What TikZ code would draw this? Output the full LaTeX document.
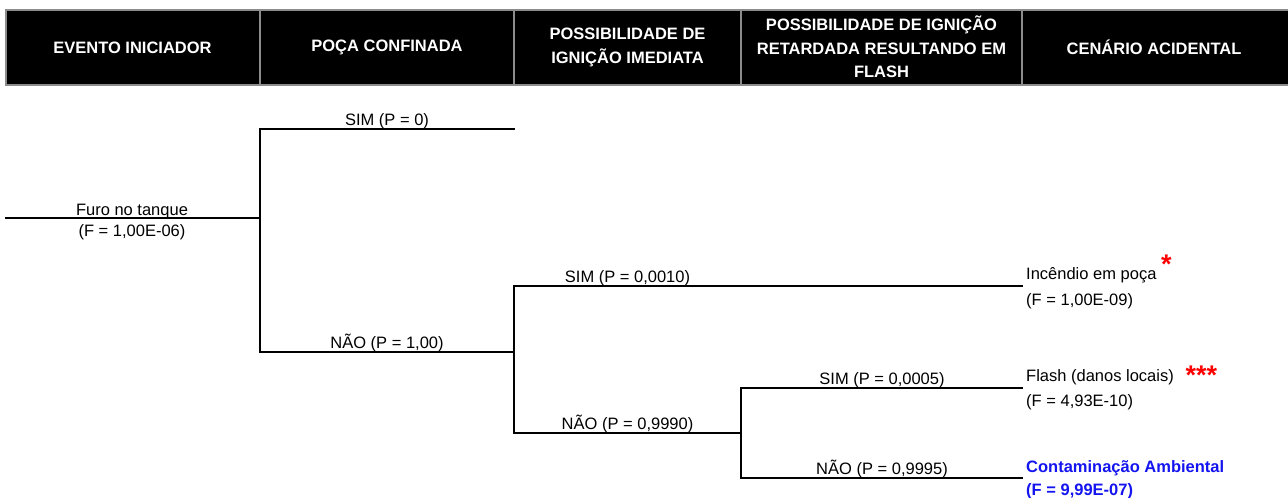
\documentclass[tikz,border=0pt]{standalone}
\usepackage{fontspec}
\setmainfont{Liberation Sans}
\definecolor{hdrgray}{RGB}{140,140,140}
\definecolor{outblue}{RGB}{20,20,240}
\begin{document}
\begin{tikzpicture}[x=1pt,y=-1pt]
\tikzset{
  branch/.style={line width=2.6pt, line cap=rect, line join=miter},
  lbl/.style={font=\fontsize{16.5}{20}\selectfont, inner sep=0pt, anchor=base},
  outc/.style={font=\fontsize{16.5}{20}\selectfont, inner sep=0pt, anchor=base west},
  hdr/.style={font=\bfseries\fontsize{16.5}{23.5}\selectfont, text=white, align=center, inner sep=0pt},
  star/.style={font=\bfseries\fontsize{27}{27}\selectfont, text=red, inner sep=0pt, anchor=base west},
  sep/.style={draw=hdrgray, line width=2pt},
}
\useasboundingbox (0,0) rectangle (1288,498);
% header band
\fill[black] (6,10) rectangle (1292,85);
\draw[sep] (6,10) rectangle (1292,85);
\foreach \xx in {260,514,741,1022} { \draw[sep] (\xx,10) -- (\xx,85); }
\node[hdr] (h1) at (132.5,47.5) {EVENTO INICIADOR};
\node[hdr] (h2) at (387,47.5) {POÇA CONFINADA};
\node[hdr] (h3) at (627.5,47.5) {POSSIBILIDADE DE\\IGNIÇÃO IMEDIATA};
\node[hdr] (h4) at (881.5,47) {POSSIBILIDADE DE IGNIÇÃO\\RETARDADA RESULTANDO EM\\FLASH};
\node[hdr] (h5) at (1154,47.5) {CENÁRIO ACIDENTAL};
% tree coordinates
\coordinate (s) at (6,218);
\coordinate (b1) at (260,218);
\coordinate (b1t) at (260,129);
\coordinate (b1b) at (260,352);
\coordinate (e1) at (514,129);
\coordinate (b2) at (514,352);
\coordinate (b2t) at (514,286);
\coordinate (b2b) at (514,433);
\coordinate (e2) at (1022,286);
\coordinate (b3) at (741,433);
\coordinate (b3t) at (741,388);
\coordinate (b3b) at (741,478);
\coordinate (e3) at (1022,388);
\coordinate (e4) at (1022,478);
\draw[branch] (s) -- (b1);
\draw[branch] (e1) -- (b1t) -- (b1b) -- (b2);
\draw[branch] (e2) -- (b2t) -- (b2b) -- (b3);
\draw[branch] (e3) -- (b3t) -- (b3b) -- (e4);
% labels
\node[lbl] (l0a) at (132,215) {Furo no tanque};
\node[lbl] (l0b) at (132,236.5) {(F = 1,00E-06)};
\node[lbl] (l1) at (387,125) {SIM (P = 0)};
\node[lbl] (l2) at (387,348) {NÃO (P = 1,00)};
\node[lbl] (l3) at (627.5,282) {SIM (P = 0,0010)};
\node[lbl] (l4) at (627.5,429) {NÃO (P = 0,9990)};
\node[lbl] (l5) at (882,384.5) {SIM (P = 0,0005)};
\node[lbl] (l6) at (882,474) {NÃO (P = 0,9995)};
% outcomes
\node[outc] (o1) at (1026,279) {Incêndio em poça};
\node[outc] (o1f) at (1026,305) {(F = 1,00E-09)};
\node[star] (st1) at (1161,273.3) {*};
\node[outc] (o2) at (1026,381.5) {Flash (danos locais)};
\node[outc] (o2f) at (1026,406.5) {(F = 4,93E-10)};
\node[star] (st2) at (1185.5,384.6) {***};
\node[outc, text=outblue, font=\bfseries\fontsize{16.5}{20}\selectfont] (o3) at (1026,472.3) {Contaminação Ambiental};
\node[outc, text=outblue, font=\bfseries\fontsize{16.5}{20}\selectfont] (o3f) at (1026,495) {(F = 9,99E-07)};
\end{tikzpicture}
\end{document}
